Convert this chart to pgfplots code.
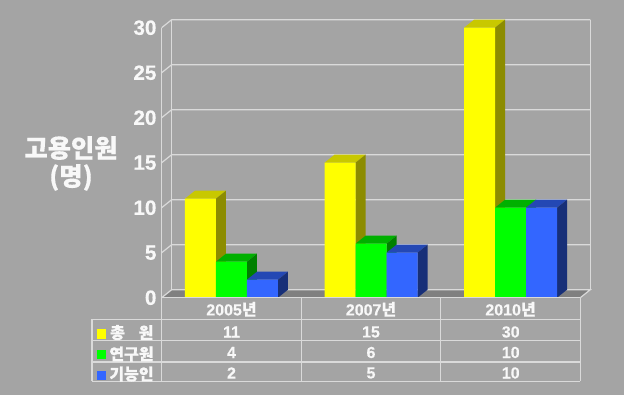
\documentclass[border=0pt]{standalone}
\usepackage{pgfplots}
\pgfplotsset{compat=1.18}
\usepackage{fontspec}
\setmainfont{Liberation Sans}[BoldFeatures={FakeBold=0.4}]
\newfontfamily\kr{Noto Sans CJK KR}[BoldFeatures={FakeBold=0.4}]
\definecolor{bgc}{HTML}{A4A4A4}
\definecolor{linec}{HTML}{DADADA}
\definecolor{floorc}{HTML}{808080}
\definecolor{txt}{HTML}{F8F8F8}
\definecolor{ya}{HTML}{FFFF00}\definecolor{yb}{HTML}{C8C800}\definecolor{yc}{HTML}{8C8C00}
\definecolor{ga}{HTML}{00FF00}\definecolor{gb}{HTML}{00B000}\definecolor{gc}{HTML}{008000}
\definecolor{ba}{HTML}{3366FF}\definecolor{bb}{HTML}{2448B4}\definecolor{bc}{HTML}{172F78}
% top and side faces of a bar: left x, right x, value, colours
\newcommand\threed[5]{%
  \pgfmathsetmacro\xa{#1+0.0717}%
  \pgfmathsetmacro\xb{#2+0.0717}%
  \pgfmathsetmacro\vb{#3+0.8889}%
  \addplot[fill=#4,draw=none] coordinates {(#1,#3) (\xa,\vb) (\xb,\vb) (#2,#3)};
  \addplot[fill=#5,draw=none] coordinates {(#2,0) (\xb,0.8889) (\xb,\vb) (#2,#3)};
}
\begin{document}
\begin{tikzpicture}
\begin{scope}[x=0.75pt,y=-0.75pt]
\fill[bgc] (0,0) rectangle (624,395);
\end{scope}
\begin{axis}[
  at={(121.275pt,-223.275pt)},anchor=south west,
  scale only axis,width=313.95pt,height=202.5pt,
  xmin=-0.5,xmax=2.5,ymin=0,ymax=30,clip=false,
  axis line style={draw=none},tick style={draw=none},major tick length=0pt,
  xtick={0,1,2},xticklabels={2005{\kr 년},2007{\kr 년},2010{\kr 년}},
  ytick={0,5,10,15,20,25,30},
  /pgf/number format/assume math mode=true,
  yticklabel style={font=\bfseries\fontsize{15.5}{15.5}\selectfont,text=txt,anchor=east,inner sep=0pt,xshift=-3.75pt},
  xticklabel style={font=\bfseries\fontsize{12}{12}\selectfont,text=txt,anchor=center,inner sep=0pt,yshift=-8.7pt},
]
% floor
\addplot[fill=floorc,draw=none] coordinates {(-0.5,0) (-0.4283,0.8889) (2.5717,0.8889) (2.5,0)};
% walls and grid
\addplot[linec,line width=0.9pt] coordinates {(-0.5,30) (-0.4283,30.8889) (2.5717,30.8889)};
\addplot[linec,line width=0.9pt] coordinates {(-0.5,25) (-0.4283,25.8889) (2.5717,25.8889)};
\addplot[linec,line width=0.9pt] coordinates {(-0.5,20) (-0.4283,20.8889) (2.5717,20.8889)};
\addplot[linec,line width=0.9pt] coordinates {(-0.5,15) (-0.4283,15.8889) (2.5717,15.8889)};
\addplot[linec,line width=0.9pt] coordinates {(-0.5,10) (-0.4283,10.8889) (2.5717,10.8889)};
\addplot[linec,line width=0.9pt] coordinates {(-0.5,5) (-0.4283,5.8889) (2.5717,5.8889)};
\addplot[linec,line width=0.9pt] coordinates {(-0.5,0) (-0.4283,0.8889) (2.5717,0.8889) (2.5,0)};
\addplot[linec,line width=0.9pt] coordinates {(-0.5,0) (-0.5,30)};
\addplot[linec,line width=0.9pt] coordinates {(-0.4283,0.8889) (-0.4283,30.8889)};
\addplot[linec,line width=0.9pt] coordinates {(2.5717,0.8889) (2.5717,30.8889)};
% 3D faces
\threed{-0.3333}{-0.1111}{11}{yb}{yc}
\threed{0.6667}{0.8889}{15}{yb}{yc}
\threed{1.6667}{1.8889}{30}{yb}{yc}
\threed{-0.1111}{0.1111}{4}{gb}{gc}
\threed{0.8889}{1.1111}{6}{gb}{gc}
\threed{1.8889}{2.1111}{10}{gb}{gc}
\threed{0.1111}{0.3333}{2}{bb}{bc}
\threed{1.1111}{1.3333}{5}{bb}{bc}
\threed{2.1111}{2.3333}{10}{bb}{bc}
% front faces
\addplot[ybar,bar width=23.25pt,bar shift=-23.25pt,fill=ya,draw=none] coordinates {(0,11) (1,15) (2,30)};
\addplot[ybar,bar width=23.25pt,bar shift=0pt,fill=ga,draw=none] coordinates {(0,4) (1,6) (2,10)};
\addplot[ybar,bar width=23.25pt,bar shift=23.25pt,fill=ba,draw=none] coordinates {(0,2) (1,5) (2,10)};
\end{axis}
\begin{scope}[x=0.75pt,y=-0.75pt]
% data table
\draw[linec,line width=0.9pt] (161.7,297.7) -- (580.3,297.7);
\draw[linec,line width=0.9pt] (92,319.3) -- (580.3,319.3);
\draw[linec,line width=0.9pt] (92,340.7) -- (580.3,340.7);
\draw[linec,line width=0.9pt] (92,362) -- (580.3,362);
\draw[linec,line width=0.9pt] (92,381.3) -- (580.3,381.3);
\draw[linec,line width=0.9pt] (92,319.3) -- (92,381.3);
\draw[linec,line width=0.9pt] (161.7,297.7) -- (161.7,381.3);
\draw[linec,line width=0.9pt] (301.7,297.7) -- (301.7,381.3);
\draw[linec,line width=0.9pt] (440.8,297.7) -- (440.8,381.3);
\draw[linec,line width=0.9pt] (580.3,297.7) -- (580.3,381.3);
\fill[ya] (96.7,329.3) rectangle (105.7,338.7);
\fill[ga] (96.7,350) rectangle (105.7,359);
\fill[ba] (96.7,370.7) rectangle (105.7,379.7);
\begin{scope}[every node/.style={text=txt,inner sep=0pt,font=\bfseries\fontsize{12}{12}\selectfont}]
\node[font=\kr\bfseries\fontsize{12}{12}\selectfont] at (117.5,332.5) {총};
\node[font=\kr\bfseries\fontsize{12}{12}\selectfont] at (146,332.5) {원};
\node[font=\kr\bfseries\fontsize{12}{12}\selectfont] at (131.5,354) {연구원};
\node[font=\kr\bfseries\fontsize{12}{12}\selectfont] at (131.5,374) {기능인};
\node at (231.5,332) {11};
\node at (371,332) {15};
\node at (510.7,332) {30};
\node at (231.5,352.5) {4};
\node at (371,352.5) {6};
\node at (510.7,352.5) {10};
\node at (231.5,373) {2};
\node at (371,373) {5};
\node at (510.7,373) {10};
\end{scope}
\node[text=txt,inner sep=0pt,font=\kr\bfseries\fontsize{19}{19}\selectfont] at (71,148) {고용인원};
\node[text=txt,inner sep=0pt,font=\kr\bfseries\fontsize{19}{19}\selectfont] at (71,177.5) {(명)};
\end{scope}
\end{tikzpicture}
\end{document}
